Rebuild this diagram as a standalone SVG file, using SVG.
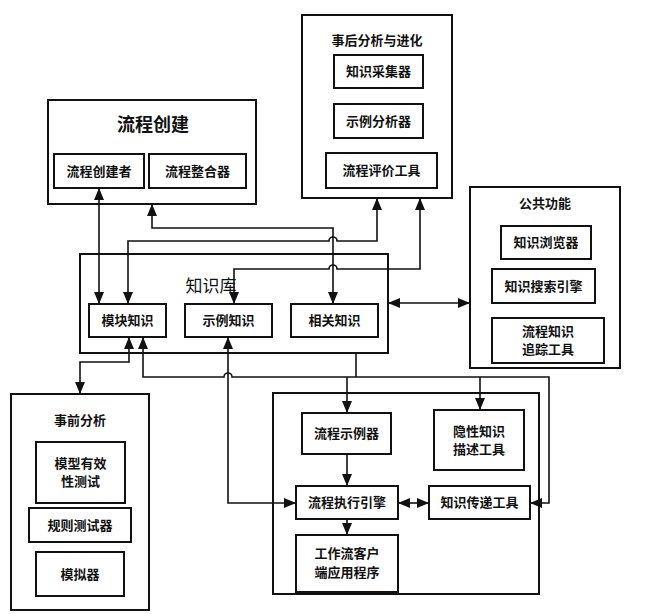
<svg xmlns="http://www.w3.org/2000/svg" width="645" height="614" viewBox="0 0 645 614">
<style>
.box{fill:none;stroke:#111;stroke-width:2}
.t{font-family:"Noto Sans CJK SC","Noto Sans CJK JP",sans-serif;font-size:13px;font-weight:bold;fill:#111;text-anchor:middle}
.big{font-size:18px}
.kb{font-size:17px;font-weight:normal}
.c{fill:none;stroke:#111;stroke-width:1.6}
</style>
<defs>
<marker id="a" markerUnits="userSpaceOnUse" markerWidth="12" markerHeight="10" refX="12" refY="5" orient="auto-start-reverse">
<path d="M0,0 L12,5 L0,10 z" fill="#111"/>
</marker>
</defs>
<rect width="645" height="614" fill="#fff"/>

<g id="liucheng-chuangjian">
<rect class="box" x="48" y="100" width="208" height="104"/>
<text class="t big" x="153" y="131">流程创建</text>
<rect class="box" x="54" y="154" width="90" height="34"/>
<text class="t" x="99" y="175.5">流程创建者</text>
<rect class="box" x="149" y="154" width="97" height="34"/>
<text class="t" x="197.5" y="175.5">流程整合器</text>
</g>

<g id="shihou-fenxi">
<rect class="box" x="302" y="15" width="150" height="183"/>
<text class="t" x="377" y="45">事后分析与进化</text>
<rect class="box" x="334" y="55" width="89" height="33"/>
<text class="t" x="378.5" y="76">知识采集器</text>
<rect class="box" x="334" y="104" width="89" height="34"/>
<text class="t" x="378.5" y="125.5">示例分析器</text>
<rect class="box" x="326" y="153" width="111" height="35"/>
<text class="t" x="381.5" y="175">流程评价工具</text>
</g>

<g id="gonggong-gongneng">
<rect class="box" x="470" y="187" width="150" height="181"/>
<text class="t" x="545" y="208">公共功能</text>
<rect class="box" x="501" y="226" width="90" height="33"/>
<text class="t" x="546" y="247">知识浏览器</text>
<rect class="box" x="492" y="269" width="103" height="34"/>
<text class="t" x="543.5" y="290.5">知识搜索引擎</text>
<rect class="box" x="492" y="318" width="112" height="45"/>
<text class="t" x="548" y="336">流程知识</text>
<text class="t" x="548" y="354">追踪工具</text>
</g>

<g id="zhishiku">
<rect class="box" x="80" y="254" width="308" height="99"/>
<text class="t kb" x="211" y="292">知识库</text>
<rect class="box" x="89" y="304" width="77" height="33"/>
<text class="t" x="127.5" y="325">模块知识</text>
<rect class="box" x="185" y="304" width="87" height="33"/>
<text class="t" x="228.5" y="325">示例知识</text>
<rect class="box" x="291" y="304" width="87" height="33"/>
<text class="t" x="334.5" y="325">相关知识</text>
</g>

<g id="shiqian-fenxi">
<rect class="box" x="11" y="394" width="138" height="216"/>
<text class="t" x="80" y="425">事前分析</text>
<rect class="box" x="36" y="442" width="89" height="61"/>
<text class="t" x="80.5" y="468">模型有效</text>
<text class="t" x="80.5" y="486">性测试</text>
<rect class="box" x="29" y="508" width="102" height="34"/>
<text class="t" x="80" y="529.5">规则测试器</text>
<rect class="box" x="36" y="552" width="88" height="44"/>
<text class="t" x="80" y="578.5">模拟器</text>
</g>

<g id="zhixing">
<rect class="box" x="273" y="393" width="266" height="201"/>
<rect class="box" x="302" y="413" width="89" height="41"/>
<text class="t" x="346.5" y="438">流程示例器</text>
<rect class="box" x="434" y="410" width="90" height="60"/>
<text class="t" x="479" y="436">隐性知识</text>
<text class="t" x="479" y="454">描述工具</text>
<rect class="box" x="296" y="486" width="102" height="33"/>
<text class="t" x="347" y="507">流程执行引擎</text>
<rect class="box" x="429" y="486" width="101" height="33"/>
<text class="t" x="479.5" y="507">知识传递工具</text>
<rect class="box" x="296" y="535" width="102" height="57"/>
<text class="t" x="347" y="558">工作流客户</text>
<text class="t" x="347" y="577">端应用程序</text>
</g>

<g id="connectors">
<path class="c" d="M99,188 L99,304" marker-start="url(#a)" marker-end="url(#a)"/>
<path class="c" d="M152,204 L152,228 L333,228 L333,304" marker-start="url(#a)" marker-end="url(#a)"/>
<path class="c" d="M128,304 L128,241 L329,241 A4,4 0 0 1 337,241 L377,241 L377,198" marker-start="url(#a)" marker-end="url(#a)"/>
<path class="c" d="M234,304 L234,269 L329,269 A4,4 0 0 1 337,269 L420,269 L420,198" marker-start="url(#a)" marker-end="url(#a)"/>
<path class="c" d="M388,303 L470,303" marker-start="url(#a)" marker-end="url(#a)"/>
<path class="c" d="M129,337 L129,362 L80,362 L80,394" marker-start="url(#a)" marker-end="url(#a)"/>
<path class="c" d="M143,337 L143,377 L224,377 A4,4 0 0 1 232,377 L549,377 L549,503 L530,503" marker-start="url(#a)" marker-end="url(#a)"/>
<path class="c" d="M356,353 L356,377"/>
<path class="c" d="M347,377 L347,413" marker-end="url(#a)"/>
<path class="c" d="M480,377 L480,410" marker-end="url(#a)"/>
<path class="c" d="M228,337 L228,503 L296,503" marker-start="url(#a)" marker-end="url(#a)"/>
<path class="c" d="M347,454 L347,486" marker-end="url(#a)"/>
<path class="c" d="M347,519 L347,535" marker-end="url(#a)"/>
<path class="c" d="M398,503 L429,503" marker-start="url(#a)" marker-end="url(#a)"/>
</g>
</svg>
